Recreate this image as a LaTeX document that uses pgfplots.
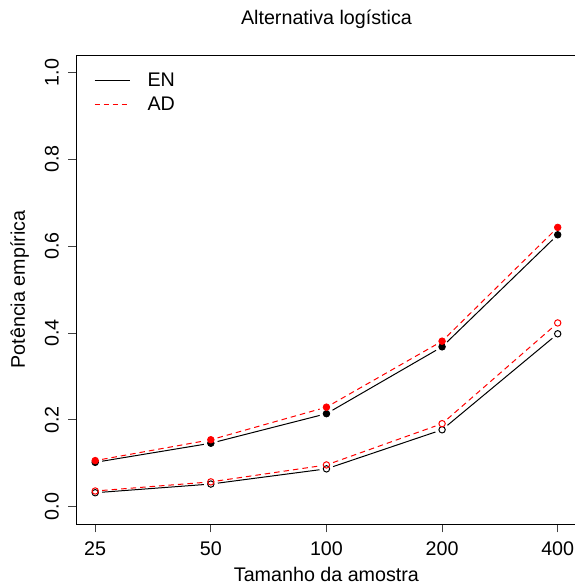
\documentclass[border=0pt]{standalone}
\usepackage{pgfplots}
\pgfplotsset{compat=1.18}
\usepackage{fontspec}
\setmainfont{Liberation Sans}
\newcommand\fs{\fontsize{19.7}{23.6}\selectfont}
\newcommand\seg[5]{\addplot[#1, forget plot, shorten <=7pt, shorten >=7pt] coordinates {(#2,#3) (#4,#5)};}
\begin{document}
\begin{tikzpicture}
\begin{axis}[
  at={(0,0)}, anchor=south west,
  scale only axis, width=499.5pt, height=469pt,
  xmin=0.84, xmax=5.16, ymin=-0.04, ymax=1.04,
  xtick={1,2,3,4,5}, xticklabels={25,50,100,200,400},
  ytick={0,0.2,0.4,0.6,0.8,1.0}, yticklabels={0.0,0.2,0.4,0.6,0.8,1.0},
  tick align=outside, xtick pos=left, ytick pos=left,
  major tick length=8.4pt,
  tick style={line width=0.7pt, black!75},
  axis line style={line width=0.9pt, black},
  xticklabel style={font=\fs, inner sep=0pt, anchor=north, yshift=-9pt},
  yticklabel style={font=\fs, inner sep=0pt, rotate=90, anchor=south},
  yticklabel shift=9.2pt,
  title={Alternativa logística},
  title style={font=\fs, at={([yshift=24.3pt]axis description cs:0.5,1)}, anchor=base, inner sep=0pt},
  xlabel={Tamanho da amostra},
  xlabel style={font=\fs, at={([yshift=-57pt]axis description cs:0.5,0)}, anchor=base, inner sep=0pt},
  ylabel={Potência empírica},
  ylabel style={font=\fs, at={([xshift=-51.7pt]axis description cs:0,0.5)}, anchor=base, inner sep=0pt, rotate=0},
  legend style={at={(axis description cs:0,1)}, anchor=north west, draw=none, fill=none, font=\fs,
    xshift=17.3pt, yshift=-18pt, inner sep=0pt, row sep=8.5pt,
    nodes={inner sep=0pt, anchor=west}},
  legend cell align=left,
  legend image code/.code={\draw[#1] (0pt,0pt) -- (35pt,0pt);},
]
\addlegendimage{black, line width=1pt}
\addlegendentry{\hspace{17.4pt}EN}
\addlegendimage{red, line width=1pt, dash pattern=on 5pt off 4pt}
\addlegendentry{\hspace{17.4pt}AD}
% EN filled (black solid)
\seg{black, line width=1pt}{1}{0.102}{2}{0.146}
\seg{black, line width=1pt}{2}{0.146}{3}{0.214}
\seg{black, line width=1pt}{3}{0.214}{4}{0.368}
\seg{black, line width=1pt}{4}{0.368}{5}{0.626}
\addplot[only marks, mark=*, mark size=3.3pt, mark options={fill=black, draw=black, line width=0.8pt}, forget plot]
  coordinates {(1,0.102) (2,0.146) (3,0.214) (4,0.368) (5,0.626)};
% EN open
\seg{black, line width=1pt}{1}{0.032}{2}{0.052}
\seg{black, line width=1pt}{2}{0.052}{3}{0.087}
\seg{black, line width=1pt}{3}{0.087}{4}{0.177}
\seg{black, line width=1pt}{4}{0.177}{5}{0.398}
\addplot[only marks, mark=o, mark size=3.2pt, mark options={draw=black, line width=1pt}, forget plot]
  coordinates {(1,0.032) (2,0.052) (3,0.087) (4,0.177) (5,0.398)};
% AD filled (red dashed)
\seg{red, line width=1pt, dash pattern=on 5.5pt off 4pt}{1}{0.106}{2}{0.154}
\seg{red, line width=1pt, dash pattern=on 5.5pt off 4pt}{2}{0.154}{3}{0.229}
\seg{red, line width=1pt, dash pattern=on 5.5pt off 4pt}{3}{0.229}{4}{0.381}
\seg{red, line width=1pt, dash pattern=on 5.5pt off 4pt}{4}{0.381}{5}{0.643}
\addplot[only marks, mark=*, mark size=3.3pt, mark options={fill=red, draw=red, line width=0.8pt}, forget plot]
  coordinates {(1,0.106) (2,0.154) (3,0.229) (4,0.381) (5,0.643)};
% AD open
\seg{red, line width=1pt, dash pattern=on 5.5pt off 4pt}{1}{0.036}{2}{0.057}
\seg{red, line width=1pt, dash pattern=on 5.5pt off 4pt}{2}{0.057}{3}{0.096}
\seg{red, line width=1pt, dash pattern=on 5.5pt off 4pt}{3}{0.096}{4}{0.191}
\seg{red, line width=1pt, dash pattern=on 5.5pt off 4pt}{4}{0.191}{5}{0.423}
\addplot[only marks, mark=o, mark size=3.2pt, mark options={draw=red, line width=1pt}, forget plot]
  coordinates {(1,0.036) (2,0.057) (3,0.096) (4,0.191) (5,0.423)};
\end{axis}
\pgfresetboundingbox
\path[use as bounding box] (-76.7pt,-61pt) rectangle (497.3pt,524pt);
\end{tikzpicture}
\end{document}
